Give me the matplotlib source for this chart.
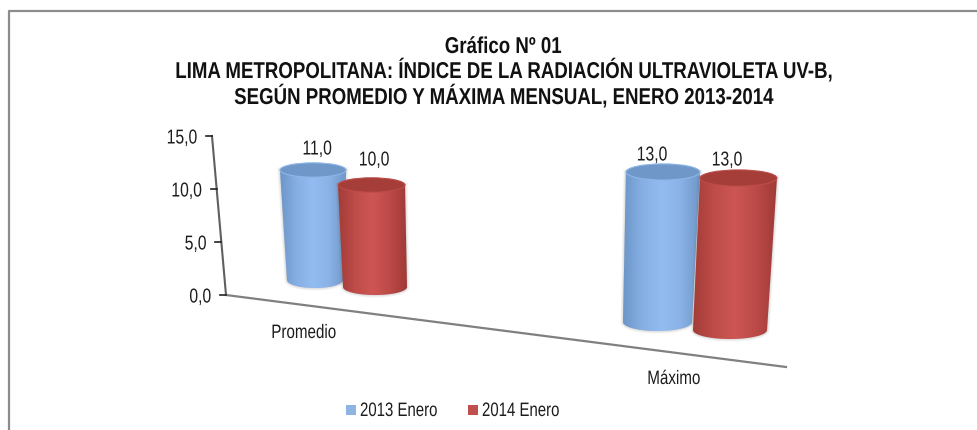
import numpy as np
import matplotlib
matplotlib.use("Agg")
import matplotlib.pyplot as plt
from matplotlib.patches import Ellipse, PathPatch, Rectangle
from matplotlib.path import Path
from matplotlib.colors import LinearSegmentedColormap
from matplotlib.patheffects import AbstractPathEffect
from matplotlib.transforms import Affine2D

# ---- data ----
categories = ["Promedio", "Máximo"]
series_names = ["2013 Enero", "2014 Enero"]
values_2013 = [11.0, 13.0]
values_2014 = [10.0, 13.0]
y_ticks = [0.0, 5.0, 10.0, 15.0]
title_lines = ["Gráfico Nº 01",
               "LIMA METROPOLITANA: ÍNDICE DE LA RADIACIÓN ULTRAVIOLETA UV-B,",
               "SEGÚN PROMEDIO Y MÁXIMA MENSUAL, ENERO 2013-2014"]

plt.rcParams['font.family'] = ['Liberation Sans', 'DejaVu Sans']
W, H = 978, 430
fig = plt.figure(figsize=(W/100, H/100), dpi=100, facecolor='white')
ax = fig.add_axes([0, 0, 1, 1])
ax.set_xlim(0, W); ax.set_ylim(H, 0); ax.axis('off')


class Condense(AbstractPathEffect):
    """Draws the text narrower around its anchor (the look of a narrow face)."""
    def __init__(self, anchor, sx):
        super().__init__()
        self.anchor, self.sx = anchor, sx

    def draw_path(self, renderer, gc, tpath, affine, rgbFace=None):
        squeeze = Affine2D().translate(-self.anchor, 0).scale(self.sx, 1).translate(self.anchor, 0)
        renderer.draw_path(gc, tpath, affine + squeeze, rgbFace)


def ntext(x, y, s, size, sx=0.78, ha='center', color='#1c1c1c', **kw):
    anchor = ax.transData.transform((x, 0))[0]
    t = ax.text(x, y, s, fontsize=size, ha=ha, va='baseline', color=color, zorder=10, **kw)
    t.set_path_effects([Condense(anchor, sx)])
    return t


# ---- perspective layout per bar:
# ground x, ground y, base half width, top half width, px per unit, lean per unit, semi-minor, label dx, label dy
layout = {
    (0, 0): (315, 280, 28, 33, 10.0, -0.18, 8, 4, 15.5),
    (0, 1): (375, 287, 32, 33.5, 10.2, -0.35, 8, 2.5, 19.5),
    (1, 0): (657.5, 322, 34.5, 37, 11.54, 0.42, 9, -11, 11.5),
    (1, 1): (730, 330, 37, 38.5, 11.69, 0.65, 9, -11.5, 12.5),
}
cmap_blue = LinearSegmentedColormap.from_list('b', ['#6c96c8', '#86afe4', '#93bdf2', '#8ab2e6', '#6f97c8'])
cmap_red = LinearSegmentedColormap.from_list('r', ['#a33c38', '#bf4c49', '#cd5653', '#bc4a47', '#a03a36'])
top_blue, top_red = '#6f98c8', '#a53e39'
rim_blue, rim_red = '#8fb6e8', '#bd4c48'


def cylinder(cat, ser, value, cmap, top_col, rim_col):
    gx, gy, hw, thw, scale, lean, b, ldx, ldy = layout[(cat, ser)]
    tx, ty = gx + lean * value, gy - scale * value
    t = np.linspace(0, np.pi, 40)
    bottom = np.c_[gx + hw*np.cos(t), gy + b*np.sin(t)]
    verts = np.vstack([[(tx - thw, ty), (tx + thw, ty)], bottom])
    path = Path(np.vstack([verts, verts[0]]), closed=True)
    z = 3 + cat + ser*.1
    for k, a in ((3, .05), (2, .07), (1, .09)):
        ax.add_patch(PathPatch(path, fc='#666666', ec='#666666', lw=k*1.3, alpha=a, zorder=z))
    patch = PathPatch(path, fc='none', ec='none')
    ax.add_patch(patch)
    grad = np.linspace(0, 1, 256)[None, :]
    x0, x1 = min(gx - hw, tx - thw), max(gx + hw, tx + thw)
    im = ax.imshow(grad, cmap=cmap, extent=[x0, x1, gy + b, ty], aspect='auto',
                   zorder=z + .02, interpolation='bilinear')
    im.set_clip_path(patch)
    ax.add_patch(Ellipse((tx, ty), 2*thw, 2*b*0.9, fc=top_col, ec=rim_col, lw=0.8, zorder=z + .04))
    return tx + ldx, ty - ldy


def project_axis(v):
    return 226 - 14*v/15, 295 - 159*v/15


ax.set_xlim(0, W); ax.set_ylim(H, 0)

# frame: open on the right and at the bottom of the crop
ax.plot([9, 9, W], [H, 11, 11], color='#8c8c8c', lw=1.6, zorder=1, solid_capstyle='butt')

# axes
p0, p1 = project_axis(0), project_axis(15)
ax.plot([p0[0], p1[0]], [p0[1], p1[1]], color='#5f5f5f', lw=1.5, zorder=2)
ax.plot([226, 786], [295, 367], color='#808080', lw=1.6, zorder=2)
for v in y_ticks:
    px, py = project_axis(v)
    ax.plot([px - 6, px], [py, py], color='#222222', lw=1.2, zorder=2)
    ntext(px - 15, py + 7.5, f"{v:.1f}".replace('.', ','), 14.5, ha='right')

# bars and their value labels
for cat in range(len(categories)):
    for ser, (vals, cm, tc, rc) in enumerate(((values_2013, cmap_blue, top_blue, rim_blue),
                                              (values_2014, cmap_red, top_red, rim_red))):
        lx, ly = cylinder(cat, ser, vals[cat], cm, tc, rc)
        ntext(lx, ly, f"{vals[cat]:.1f}".replace('.', ','), 14.5)

# category labels
for name, (x, y) in zip(categories, [(304, 338), (674, 384)]):
    ntext(x, y, name, 14, sx=0.78)

# title
for line, y in zip(title_lines, [53, 78, 104]):
    ntext(503, y, line, 16.5, sx=0.815, fontweight='bold', color='#111111')

# legend
for x, col, name in zip([346, 468], ['#8eb4e3', '#c0504d'], series_names):
    ax.add_patch(Rectangle((x, 405), 10, 10, fc=col, ec='none'))
    ntext(x + 14, 416, name, 14, sx=0.77, ha='left')

fig.savefig('out.png', dpi=100, facecolor='white')
